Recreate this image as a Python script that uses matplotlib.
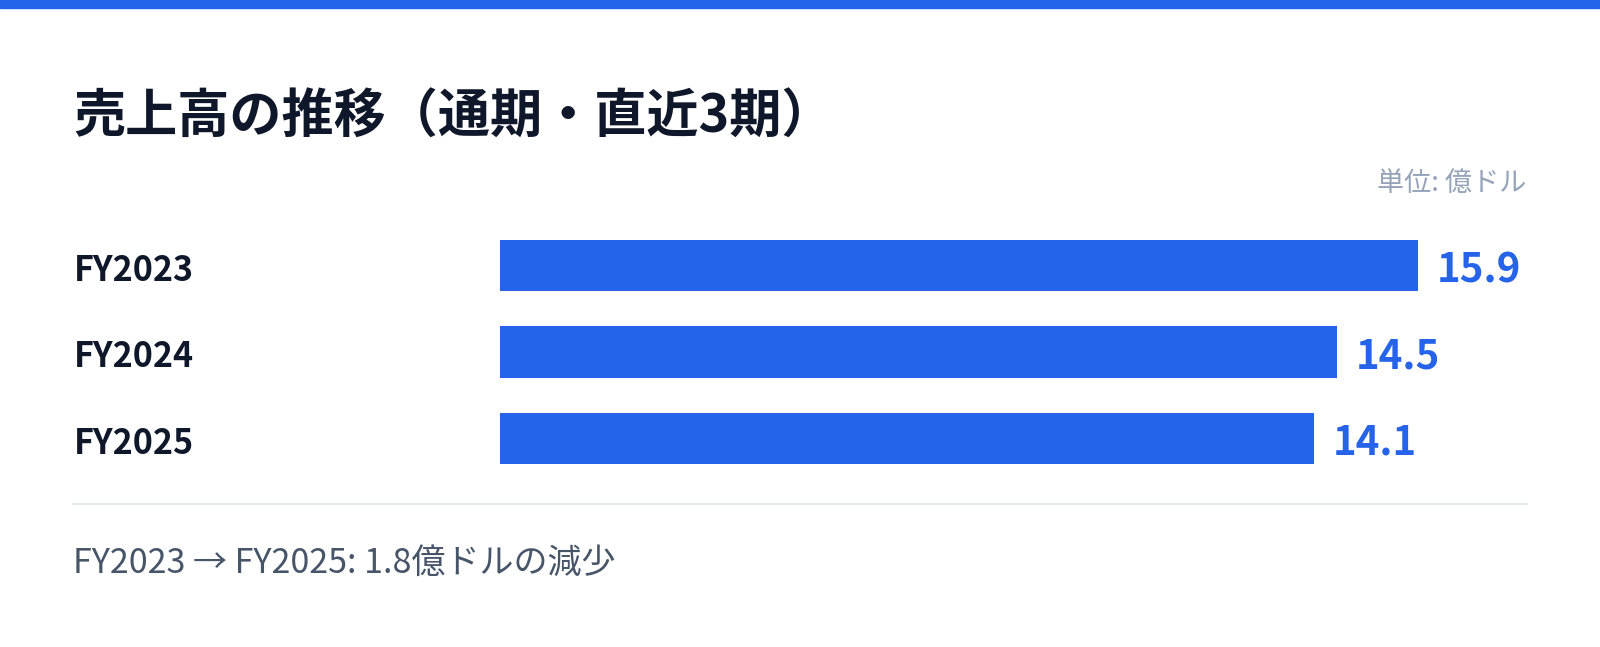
import matplotlib.pyplot as plt
from matplotlib.transforms import blended_transform_factory

plt.rcParams['font.family'] = ['Noto Sans CJK JP', 'DejaVu Sans']

# data
years = ['FY2023', 'FY2024', 'FY2025']
sales = [15.9, 14.5, 14.1]

title = '売上高の推移（通期・直近3期）'
unit_label = '単位: 億ドル'
footer = 'FY2023 → FY2025: 1.8億ドルの減少'

blue = '#2563eb'
navy = '#0f172a'

W, H = 1600, 647
S = 1600 / 1568  # layout measured on a 1568-wide view

fig = plt.figure(figsize=(W / 100, H / 100), dpi=100)
fig.patch.set_facecolor('white')

def px(x, y):
    return x * S / W, 1 - y * S / H

# top stripe
fig.patches.append(plt.Rectangle(px(0, 8), 1, 8 * S / H, transform=fig.transFigure,
                                 color=blue, zorder=5))

# title
fig.text(*px(72, 115), title, fontsize=37.5, fontweight='bold', color=navy,
         va='center', ha='left')
fig.text(*px(1496, 180), unit_label, fontsize=19.5, color='#94a3b8',
         va='center', ha='right')

# bar axes: x=0 at 490px, 56.6 px per unit
x0, y0 = px(490, 472)
x1, y1 = px(1496, 218)
ax = fig.add_axes([x0, y0, x1 - x0, y1 - y0])
ax.barh(range(len(years)), sales, height=50 / 84, color=blue)
ax.set_xlim(0, (1496 - 490) / 56.6)
ax.set_ylim(2.5, -0.5)
ax.axis('off')

trans = blended_transform_factory(fig.transFigure, ax.transData)
for i, (yr, v) in enumerate(zip(years, sales)):
    ax.annotate(yr, (px(72, 0)[0], i), xycoords=trans, xytext=(0, -3.5),
                textcoords='offset points', fontsize=24.5, fontweight='bold',
                color=navy, va='center', ha='left')
    ax.annotate(f'{v:.1f}', (v, i), xytext=(13.2, -3.5), textcoords='offset points',
                fontsize=29, fontweight='bold', color=blue, va='center', ha='left')

# separator
lx0, ly = px(72, 494)
lx1, _ = px(1496, 494)
fig.add_artist(plt.Line2D([lx0, lx1], [ly, ly], transform=fig.transFigure,
                          color='#e2e8f0', lw=1.5))

fig.text(*px(72, 552), footer, fontsize=24.5, color='#475569',
         va='center', ha='left')

fig.savefig('out.png', dpi=100, facecolor='white')
